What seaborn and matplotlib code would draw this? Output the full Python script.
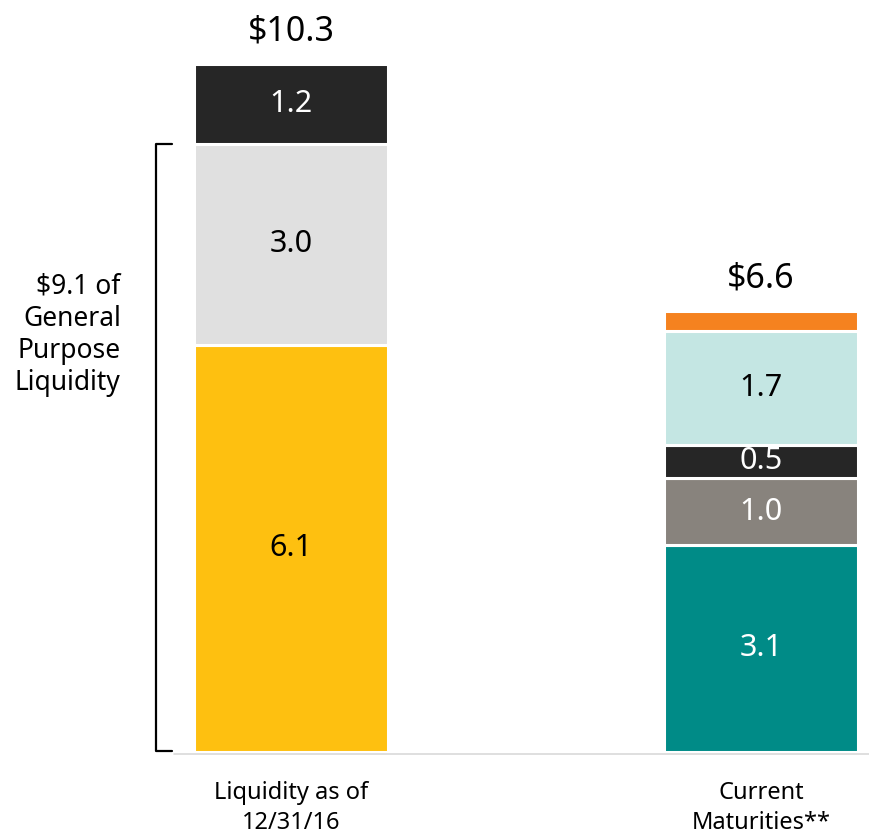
import matplotlib
matplotlib.use("Agg")
import matplotlib.pyplot as plt
import seaborn as sns

# Bar categories
categories = ["Liquidity as of\n12/31/16", "Current\nMaturities**"]

# Stacked segments (bottom to top) for each bar
liquidity_values = [6.1, 3.0, 1.2]
liquidity_colors = ["#FEC010", "#E0E0E0", "#262626"]
liquidity_text = ["black", "black", "white"]

maturity_values = [3.1, 1.0, 0.5, 1.7, 0.3]
maturity_colors = ["#008B87", "#88837D", "#262626", "#C4E6E3", "#F5821F"]
maturity_text = ["white", "white", "white", "black", None]

general_purpose_label = "$9.1 of\nGeneral\nPurpose\nLiquidity"
general_purpose_value = liquidity_values[0] + liquidity_values[1]

sns.set_theme(style="white")
plt.rcParams["font.family"] = ["Noto Sans", "DejaVu Sans"]

fig = plt.figure(figsize=(8.70, 8.38), dpi=100)
ax = fig.add_axes([0, 86 / 838, 1, 752 / 838])

bar_width = 0.413
stacks = [
    (categories[0], liquidity_values, liquidity_colors, liquidity_text),
    (categories[1], maturity_values, maturity_colors, maturity_text),
]

for idx, (cat, values, colors, text_colors) in enumerate(stacks):
    bottom = 0.0
    for val, col, tcol in zip(values, colors, text_colors):
        sns.barplot(x=[cat], y=[val], order=categories, color=col,
                    width=bar_width, bottom=bottom, edgecolor="white",
                    linewidth=2.2, saturation=1, ax=ax)
        if tcol is not None:
            ax.text(idx, bottom + val / 2, f"{val:.1f}", ha="center",
                    va="center", fontsize=22, color=tcol)
        bottom += val
    ax.annotate(f"${bottom:.1f}", xy=(idx, bottom), xytext=(0, 11),
                textcoords="offset points", ha="center", va="bottom",
                fontsize=24.5, color="black")

# Axis limits place the two bars across the canvas
ax.set_xlim(-0.619, 1.232)
ax.set_ylim(0, 11.257)
ax.set_xlabel("")
ax.set_ylabel("")
ax.set_yticks([])
for side in ["top", "right", "left", "bottom"]:
    ax.spines[side].set_visible(False)
ax.tick_params(axis="x", length=0, pad=21, labelsize=17, labelcolor="black")
for lbl in ax.get_xticklabels():
    lbl.set_linespacing(1.35)

# Light baseline under the bars
ax.plot([-0.249, 1.232], [-0.03, -0.03], color="#D9D9D9", lw=1.2,
        clip_on=False, zorder=0)

# Bracket marking general purpose liquidity
bx, bt = -0.287, -0.253
ax.plot([bt, bx, bx, bt], [general_purpose_value, general_purpose_value, 0.02, 0.02],
        color="black", lw=1.6, solid_joinstyle="round", clip_on=False)
ax.text(-0.362, 6.24, general_purpose_label, ha="right", va="center",
        fontsize=19, linespacing=1.2, color="black")

fig.savefig("out.png", dpi=100)
